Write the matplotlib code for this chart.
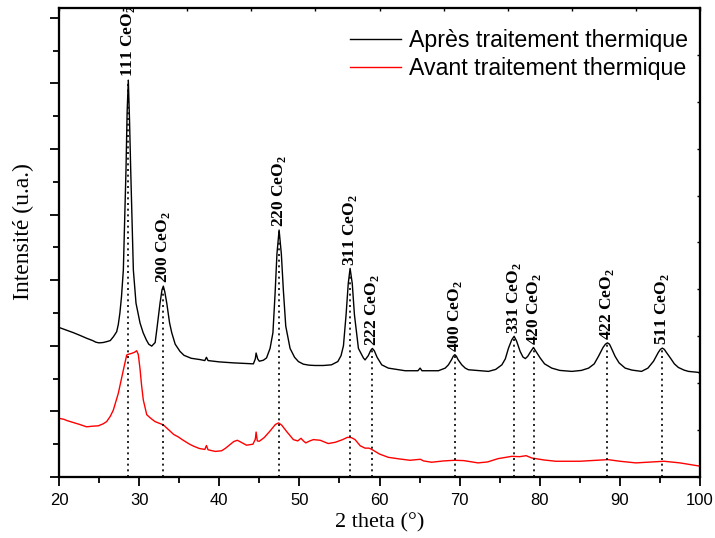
import numpy as np
import matplotlib
matplotlib.use("Agg")
import matplotlib.pyplot as plt

plt.rcParams['font.family'] = ['Liberation Sans', 'DejaVu Sans']
plt.rcParams['mathtext.fontset'] = 'custom'
plt.rcParams['mathtext.rm'] = 'Liberation Serif'
plt.rcParams['mathtext.bf'] = 'Liberation Serif:bold'

# ---- data (2 theta in degrees, intensity in arbitrary units) ----
after_x = [20.0, 21.0, 21.8, 22.6, 23.45, 24.2, 24.6, 25.0, 25.5, 26.0, 26.4, 26.8, 27.2,
           27.4, 27.6, 27.8, 28.03, 28.36, 28.5, 28.65, 28.8, 28.95, 29.28, 29.61, 30.11,
           30.5, 30.9, 31.2, 31.57, 32.0, 32.2, 32.61, 32.85, 33.02, 33.2, 33.45, 33.8, 34.07,
           34.5, 35.1, 35.6, 36.5, 37.6, 38.2, 38.4, 38.6, 40.0, 41.76, 43.5, 44.26, 44.5,
           44.6, 44.8, 45.0, 45.5, 45.9, 46.34, 46.7, 46.97, 47.2, 47.47, 47.75, 48.0, 48.3,
           48.84, 49.4, 49.88, 50.5, 51.2, 51.96, 53.0, 54.0, 54.8, 55.2, 55.5, 55.83, 56.1,
           56.33, 56.6, 56.87, 57.37, 57.99, 58.2, 58.6, 58.9, 59.11, 59.35, 59.7, 60.28,
           61.1, 63.2, 64.8, 65.07, 65.3, 67.35, 68.2, 68.6, 69.0, 69.2, 69.4, 69.6, 69.8,
           70.27, 70.7, 71.1, 73.6, 74.5, 75.27, 75.7, 76.1, 76.5, 76.8, 77.1, 77.55, 77.9,
           78.2, 78.5, 78.8, 79.22, 79.6, 80.05, 80.6, 81.5, 82.5, 84.0, 85.2, 86.1, 86.8,
           87.33, 87.9, 88.2, 88.45, 88.7, 88.9, 89.4, 89.9, 90.66, 91.5, 92.7, 93.5, 94.2,
           94.8, 95.05, 95.3, 95.55, 95.8, 96.3, 96.8, 97.3, 98.0, 98.56, 99.8, 100.0]
after_y = [456, 447, 440, 432, 423, 416, 411, 409, 410, 413, 416, 428, 443,
           465, 500, 550, 631, 936, 1110, 1210, 1090, 936, 631, 530, 470,
           440, 418, 405, 399, 410, 448, 530, 570, 582, 565, 530, 470, 440,
           405, 383, 371, 362, 358, 355, 365, 355, 351, 348, 346, 345, 360,
           378, 360, 353, 356, 363, 392, 440, 560, 680, 753, 680, 570, 460,
           392, 365, 352, 344, 341, 340, 340, 342, 352, 370, 400, 495, 590,
           636, 590, 495, 392, 363, 357, 370, 386, 392, 385, 365, 342,
           332, 324, 324, 332, 324, 324, 332, 342, 358, 368, 373, 368, 358,
           342, 332, 327, 322, 328, 342, 360, 393, 418, 429, 415, 383, 366,
           361, 368, 380, 395, 380, 363, 345, 332, 325, 322, 325, 332, 345,
           368, 395, 405, 409, 405, 395, 368, 348, 332, 326, 322, 332, 353,
           380, 389, 393, 389, 380, 363, 345, 334, 326, 322, 319, 315]

before_x = [20.0, 20.6, 21.0, 21.8, 22.6, 23.45, 24.2, 24.9, 25.5, 25.95, 26.4, 26.78, 27.4,
            28.03, 28.45, 28.65, 29.07, 29.4, 29.7, 29.9, 30.11, 30.3, 30.52, 30.95, 31.4,
            31.98, 32.6, 33.02, 33.5, 33.86, 34.3, 34.9, 35.5, 36.3, 36.8, 37.5, 38.2, 38.4,
            38.6, 39.5, 40.3, 40.8, 41.35, 41.8, 42.26, 42.8, 43.4, 44.2, 44.5, 44.6, 44.75,
            45.0, 45.6, 46.3, 47.0, 47.4, 47.8, 48.4, 49.25, 49.8, 50.2, 50.5, 50.8, 51.3,
            51.75, 52.6, 53.6, 54.5, 55.4, 56.0, 56.5, 56.95, 57.6, 58.2, 58.7, 59.04, 60.0,
            61.1, 62.5, 63.8, 65.1, 65.5, 66.5, 68.0, 69.4, 70.5, 72.3, 73.5, 74.8, 76.5,
            77.5, 78.3, 79.0, 79.5, 80.5, 82.0, 85.0, 88.5, 90.0, 92.0, 95.5, 97.5, 100.0]
before_y = [179, 176, 172, 166, 160, 153, 155, 156, 162, 169, 185, 204, 255,
            326, 372, 374, 377, 380, 385, 373, 330, 281, 235, 190, 180,
            169, 163, 159, 148, 140, 130, 122, 112, 100, 94, 87, 84, 96,
            83, 78, 80, 88, 99, 108, 112, 105, 97, 100, 115, 137, 110,
            109, 120, 139, 160, 165, 158, 139, 114, 110, 118, 110, 104, 110,
            114, 112, 102, 106, 114, 121, 120, 114, 95, 88, 88, 84, 70,
            60, 55, 51, 54, 49, 45, 49, 51, 50, 43, 46, 56, 63,
            62, 65, 58, 56, 52, 48, 48, 53, 48, 43, 48, 43, 33]

peak_pos = [28.65, 33.02, 47.47, 56.33, 59.11, 69.4, 76.8, 79.22, 88.45, 95.3]
peak_hkl = ['111', '200', '220', '311', '222', '400', '331', '420', '422', '511']

series_labels = ['Après traitement thermique', 'Avant traitement thermique']

# ---- figure ----
fig = plt.figure(figsize=(7.15, 5.38), dpi=100)
ax = fig.add_axes([59/715, 1-477/538, (700-59)/715, (477-8)/538])

ax.plot(after_x, after_y, color='black', lw=1.0, label=series_labels[0])
ax.plot(before_x, before_y, color='red', lw=1.0, label=series_labels[1])

tops = np.interp(peak_pos, after_x, after_y)
for xp, top, hkl in zip(peak_pos, tops, peak_hkl):
    ax.plot([xp, xp], [0, top], color='black', lw=1.2, linestyle=(0, (1.2, 2.2)))
    ax.annotate(hkl + r' CeO$_\mathbf{2}$', xy=(xp, top), xytext=(0, 2),
                textcoords='offset points', rotation=90, ha='center', va='bottom',
                family='Liberation Serif', fontweight='bold', fontsize=12.5)

ax.set_xlim(20, 100)
ax.set_ylim(0, 1430)
ax.set_xticks(np.arange(20, 101, 10))
ax.set_xticks(np.arange(25, 100, 10), minor=True)
ax.set_yticks(np.arange(0, 1430, 200))
ax.set_yticks(np.arange(100, 1430, 200), minor=True)
ax.set_yticklabels([])
ax.tick_params(axis='both', which='major', direction='out', length=6.5, width=1.3,
               labelsize=12, pad=5)
ax.tick_params(axis='both', which='minor', direction='out', length=4, width=1.3)
for s in ax.spines.values():
    s.set_linewidth(1.5)

# secondary axes: inward ticks on top and right
axr = ax.twinx()
axr.set_ylim(0, 10)
axr.set_yticks(np.arange(0, 11, 1))
axr.set_yticklabels([])
axr.tick_params(axis='y', direction='in', length=2.5, width=1.0)
axt = ax.twiny()
axt.set_xlim(20, 100)
axt.set_xticks(np.arange(20, 101, 8))
axt.set_xticklabels([])
axt.tick_params(axis='x', direction='in', length=2.5, width=1.0)
for a in (axr, axt):
    for s in a.spines.values():
        s.set_linewidth(1.5)

ax.set_xlabel('2 theta (°)', family='Liberation Serif', fontsize=16, labelpad=4)
ax.set_ylabel('Intensité (u.a.)', family='Liberation Serif', fontsize=17)
ax.yaxis.set_label_coords((34 - 59) / 641, (477 - 231.5) / 469)

leg = ax.legend(loc='upper left', bbox_to_anchor=((350-59)/641, (477-29)/469),
                frameon=False, fontsize=16.7, handlelength=2.2, handletextpad=0.35,
                labelspacing=0.22, borderpad=0, borderaxespad=0)

fig.savefig('out.png', dpi=100)
